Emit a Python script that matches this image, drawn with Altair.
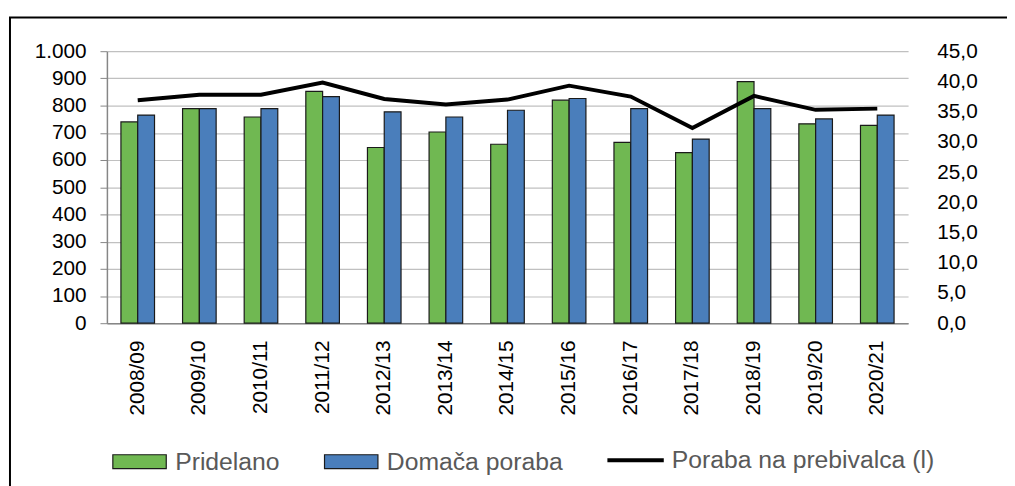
import altair as alt
import pandas as pd

seasons = ["2008/09", "2009/10", "2010/11", "2011/12", "2012/13", "2013/14", "2014/15",
           "2015/16", "2016/17", "2017/18", "2018/19", "2019/20", "2020/21"]
pridelano = [740, 789, 758, 852, 646, 703, 658, 820, 665, 627, 888, 733, 727]
domaca_poraba = [765, 789, 789, 833, 777, 758, 783, 826, 789, 677, 789, 751, 765]
poraba_na_prebivalca = [36.9, 37.8, 37.8, 39.8, 37.1, 36.2, 37.0, 39.3, 37.5, 32.3, 37.6, 35.3, 35.5]

bar_series = ["Pridelano", "Domača poraba"]
bar_colors = ["#70B852", "#4A7EBB"]
line_label = "Poraba na prebivalca (l)"

rows = []
for s, p, d in zip(seasons, pridelano, domaca_poraba):
    rows.append({"season": s, "series": bar_series[0], "value": p})
    rows.append({"season": s, "series": bar_series[1], "value": d})
df_bars = pd.DataFrame(rows)
df_line = pd.DataFrame({"season": seasons, "value": poraba_na_prebivalca, "label": line_label})

FONT = "Liberation Sans"
pi = 0.455

x_enc = alt.X(
    "season:N", sort=seasons, title=None,
    scale=alt.Scale(paddingInner=pi, paddingOuter=pi / 2),
    axis=alt.Axis(labelAngle=-90, labelFontSize=21, labelFont=FONT, labelColor="black",
                  ticks=False, labelPadding=17, domainColor="#868686", domainWidth=1.5,
                  grid=False),
)

bars = alt.Chart(df_bars).mark_bar(stroke="#1a1a1a", strokeWidth=1.2).encode(
    x=x_enc,
    xOffset=alt.XOffset("series:N", sort=bar_series),
    y=alt.Y("value:Q", title=None,
            scale=alt.Scale(domain=[0, 1000], nice=False),
            axis=alt.Axis(values=list(range(0, 1001, 100)),
                          labelExpr="replace(format(datum.value, ','), ',', '.')",
                          labelFontSize=21, labelFont=FONT, labelColor="black",
                          tickSize=7, tickColor="#868686", labelPadding=14,
                          domainColor="#868686", domainWidth=1.5,
                          grid=True, gridColor="#C0C0C0", gridWidth=1.2)),
    color=alt.Color("series:N", sort=bar_series,
                    scale=alt.Scale(domain=bar_series, range=bar_colors),
                    legend=alt.Legend(title=None, orient="none", direction="horizontal",
                                      legendX=5, legendY=387,
                                      symbolType="M-1,-0.26L1,-0.26L1,0.26L-1,0.26Z",
                                      symbolSize=2916, symbolStrokeColor="#1a1a1a",
                                      symbolStrokeWidth=1.2, symbolOpacity=1,
                                      labelFontSize=25, labelFont=FONT, labelColor="#595959",
                                      labelLimit=500,
                                      labelOffset=8, columnPadding=42, padding=0)),
)

line = alt.Chart(df_line).mark_line(strokeWidth=4).encode(
    x=alt.X("season:N", sort=seasons),
    y=alt.Y("value:Q", title=None,
            scale=alt.Scale(domain=[0, 45], nice=False),
            axis=alt.Axis(orient="right", values=list(range(0, 46, 5)),
                          labelExpr="replace(format(datum.value, '.1f'), '.', ',')",
                          labelFontSize=21, labelFont=FONT, labelColor="black",
                          ticks=False, domain=False, grid=False, labelPadding=29)),
    stroke=alt.Stroke("label:N",
                      scale=alt.Scale(domain=[line_label], range=["black"]),
                      legend=alt.Legend(title=None, orient="none", legendX=504, legendY=383,
                                        symbolType="stroke", symbolSize=3249,
                                        symbolStrokeWidth=4, labelLimit=500,
                                        labelFontSize=25, labelFont=FONT, labelColor="#595959",
                                        labelOffset=6, padding=0)),
)

frame = alt.Chart(alt.Data(values=[{"f": 1}])).mark_rect(
    filled=False, stroke="black", strokeWidth=2
).encode(
    x=alt.value(-98), x2=alt.value(1000), y=alt.value(-34), y2=alt.value(600)
)

chart = alt.layer(bars, line, frame).resolve_scale(
    y="independent", color="independent", stroke="independent"
).properties(
    width=810, height=275,
    autosize=alt.AutoSizeParams(type="none"),
    padding={"left": 100, "top": 41, "right": 100, "bottom": 170},
).configure_view(stroke=None)

chart.save("out.html", embed_options={"renderer": "svg", "actions": False})
